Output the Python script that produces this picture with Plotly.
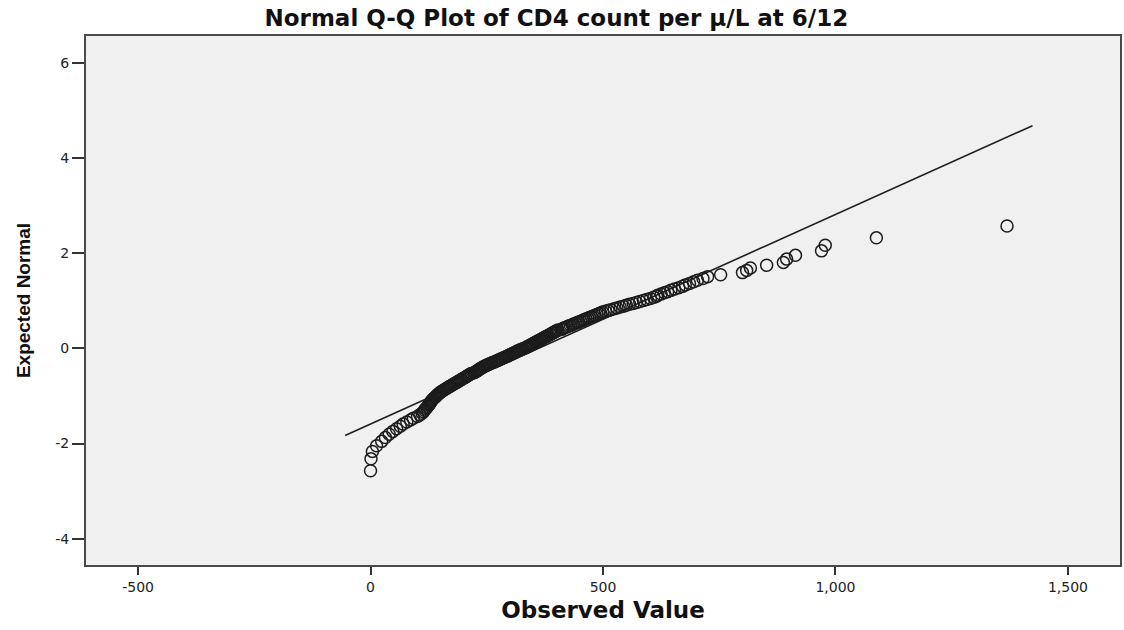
import plotly.graph_objects as go
from statistics import NormalDist, mean, stdev

# CD4 count per µ/L at 6/12, sorted ascending (n = 196)
cd4_count = [
    0, 1, 4, 13, 24, 32, 40, 48, 56, 64, 70, 78, 86, 92,
    101, 106, 111, 114, 116, 118, 121, 123, 125, 127,
    129, 130, 132, 134, 136, 139, 141, 143, 145, 148,
    150, 153, 156, 159, 162, 165, 168, 171, 174, 177,
    180, 183, 186, 188, 191, 194, 196, 199, 202, 205,
    207, 210, 212, 215, 217,
    223, 225, 228, 230, 232,
    234, 236, 239, 241, 243, 246, 249, 252, 255, 258,
    261, 265, 268, 271, 274, 277, 280, 283, 286, 289,
    292, 295, 298, 300, 303, 306, 308, 311, 314, 316,
    319, 322, 325, 328,
    332, 335, 337, 339, 342, 344, 347, 349, 351, 354,
    356, 359, 361, 364, 366, 368, 371, 373, 376, 378,
    381, 383, 386, 388, 391, 393, 396, 398, 401, 403,
    411, 413, 416, 419, 423, 426, 430, 434, 437, 441,
    445, 448, 452, 456, 459, 463, 467, 471, 475, 479,
    483, 487, 491, 495, 499, 505, 511, 517, 524, 530,
    537, 544, 550, 557, 565, 572, 579, 587, 594, 602,
    609, 615, 618, 625, 632, 639, 646, 654, 663, 671,
    677, 686, 695, 703, 715, 725,
    753, 800, 809, 817, 852, 888, 895, 914, 970, 978, 1088, 1369,
]

x_tickvals = [-500, 0, 500, 1000, 1500]
x_ticktext = ["-500", "0", "500", "1,000", "1,500"]
y_tickvals = [-4, -2, 0, 2, 4, 6]
y_ticktext = ["-4", "-2", "0", "2", "4", "6"]

# Expected normal scores from ranks: Phi^-1(r / (n + 1))
n = len(cd4_count)
std_normal = NormalDist()
expected_normal = [std_normal.inv_cdf((i + 1) / (n + 1)) for i in range(n)]

# Reference line: z = (x - mean) / sd, spanning the data range plus a small pad
mu = mean(cd4_count)
sd = stdev(cd4_count)
span = max(cd4_count) - min(cd4_count)
pad = 0.04 * span
line_x = [min(cd4_count) - pad, max(cd4_count) + pad]
line_y = [(v - mu) / sd for v in line_x]

fig = go.Figure()
fig.add_trace(go.Scatter(
    x=line_x, y=line_y, mode="lines",
    line=dict(color="#1e1e1e", width=1.6),
    hoverinfo="skip", showlegend=False,
))
fig.add_trace(go.Scatter(
    x=cd4_count, y=expected_normal, mode="markers",
    marker=dict(symbol="circle-open", size=12, color="#1c1c1c",
                line=dict(width=1.5, color="#1c1c1c")),
    showlegend=False,
))

axis_common = dict(
    showgrid=False, zeroline=False, showline=True, mirror=True,
    linecolor="#4a4a4a", linewidth=2, ticks="outside", tickcolor="#333333",
    tickwidth=2, tickfont=dict(family="DejaVu Sans", size=14, color="#222222"),
)

fig.update_layout(
    width=1124, height=630,
    margin=dict(l=86, r=2, t=36, b=65),
    paper_bgcolor="white", plot_bgcolor="#f0f0f0",
    title=dict(
        text="<b>Normal Q-Q Plot of CD4 count per µ/L at 6/12</b>",
        x=0.495, xanchor="center", y=0.972, yanchor="middle",
        font=dict(family="DejaVu Sans", size=23, color="#111111"),
    ),
    xaxis=dict(
        range=[-612, 1612], tickvals=x_tickvals, ticktext=x_ticktext, ticklen=8,
        title=dict(text="<b>Observed Value</b>", standoff=8,
                   font=dict(family="DejaVu Sans", size=23, color="#111111")),
        **axis_common,
    ),
    yaxis=dict(
        range=[-4.55, 6.56], tickvals=y_tickvals, ticktext=y_ticktext, ticklen=12,
        title=dict(text="<b>Expected Normal</b>", standoff=20,
                   font=dict(family="Liberation Sans", size=19, color="#111111")),
        **axis_common,
    ),
)

fig.write_html("out.html")
